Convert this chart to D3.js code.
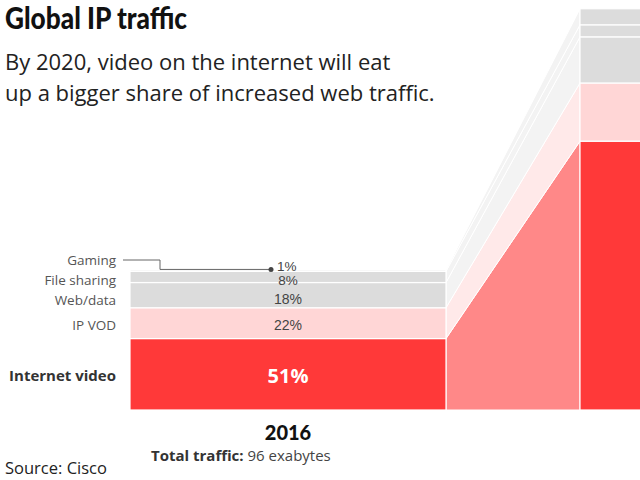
<!DOCTYPE html>
<html><head><meta charset="utf-8">
<script src="https://cdn.jsdelivr.net/npm/d3@7"></script>
<style>
body{margin:0;background:#fff;}
svg{display:block;}
</style></head>
<body><svg id="c" width="640" height="480"></svg>
<script>
const years = ["2016", "2020"];
const categories = ["Internet video", "IP VOD", "Web/data", "File sharing", "Gaming"];
const shares2016 = [51, 22, 18, 8, 1];
const shares2020 = [67, 14.5, 11.5, 3, 4];
const totals = [96, 275];
const valueLabels2016 = ["51%", "22%", "18%", "8%", "1%"];
const barColors = ["#ff3939", "#ffd6d6", "#dcdcdc", "#dcdcdc", "#dcdcdc"];
const bandColors = ["#ff8888", "#ffe9e9", "#f3f3f3", "#f3f3f3", "#f3f3f3"];

const svg = d3.select("#c");
const fontSans = "'Open Sans', sans-serif";

const x = d3.scaleBand().domain(years).range([130, 896]).paddingInner(134/450).paddingOuter(0);
const y = d3.scaleLinear().domain([0, 281]).range([410, 0]);

function stackYear(shares, total) {
  let acc = 0;
  return shares.map((s, i) => {
    const v = s / 100 * total;
    const d = {cat: categories[i], i, y0: acc, y1: acc + v};
    acc += v;
    return d;
  });
}
const stacks = [stackYear(shares2016, totals[0]), stackYear(shares2020, totals[1])];

// connecting bands
const bandG = svg.append("g");
categories.forEach((c, i) => {
  const a = stacks[0][i], b = stacks[1][i];
  const xa = x("2016") + x.bandwidth(), xb = x("2020");
  const pts = [[xa, y(a.y0)], [xa, y(a.y1)], [xb, y(b.y1)], [xb, y(b.y0)]];
  bandG.append("path")
    .attr("d", d3.line()(pts) + "Z")
    .attr("fill", bandColors[i])
    .attr("stroke", "#fff").attr("stroke-width", 1);
});

// bars
const barG = svg.append("g");
years.forEach((yr, k) => {
  stacks[k].forEach(d => {
    barG.append("rect")
      .attr("x", x(yr))
      .attr("y", y(d.y1))
      .attr("width", x.bandwidth())
      .attr("height", y(d.y0) - y(d.y1))
      .attr("fill", barColors[d.i])
      .attr("stroke", "#fff").attr("stroke-width", 1.2);
  });
});

// labels 2016
const cx = x("2016") + x.bandwidth() / 2;
const labelBase = [381, 330, 305, 285, 265];
const valBase = [383, 330, 304, 284.5, 271];
stacks[0].forEach((d, i) => {
  svg.append("text")
    .attr("x", 116).attr("y", labelBase[i])
    .attr("text-anchor", "end")
    .attr("font-family", fontSans)
    .attr("font-size", i === 0 ? 15 : 13.5)
    .attr("font-weight", i === 0 ? 700 : 400)
    .attr("fill", i === 0 ? "#333" : "#555")
    .text(d.cat);
  const t = svg.append("text")
    .attr("x", i === 4 ? cx - 11 : cx).attr("y", valBase[i])
    .attr("text-anchor", i === 4 ? "start" : "middle")
    .attr("fill", i === 0 ? "#fff" : "#444")
    .text(valueLabels2016[i]);
  if (i === 0) t.attr("font-family", fontSans).attr("font-size", 20).attr("font-weight", 700);
  else t.attr("font-family", "'Liberation Sans', Arial, sans-serif").attr("font-size", i >= 3 ? 13.5 : 14);
});
// gaming leader line
const gy = y(stacks[0][4].y1) - 0.5;
svg.append("path")
  .attr("d", d3.line()([[123, 260], [160, 260], [160, gy], [cx - 17, gy]]))
  .attr("fill", "none").attr("stroke", "#666").attr("stroke-width", 1);
svg.append("circle").attr("cx", cx - 17).attr("cy", gy).attr("r", 2.5).attr("fill", "#444");

// year + total
svg.append("text").attr("x", cx).attr("y", 440).attr("text-anchor", "middle")
  .attr("font-family", "Lato, sans-serif").attr("font-weight", 900).attr("font-size", 20)
  .attr("fill", "#111").text(years[0]);
const tt = svg.append("text").attr("x", 151).attr("y", 461).attr("text-anchor", "start")
  .attr("font-family", fontSans).attr("font-size", 15).attr("fill", "#444");
tt.append("tspan").attr("font-weight", 700).attr("fill", "#333").text("Total traffic: ");
tt.append("tspan").text(totals[0] + " exabytes");

// title
svg.append("text").attr("x", 5).attr("y", 29)
  .attr("font-family", "Lato, sans-serif")
  .attr("font-weight", 900).attr("font-size", 30).attr("fill", "#111")
  .attr("textLength", 182).attr("lengthAdjust", "spacingAndGlyphs")
  .text("Global IP traffic");
svg.append("text").attr("x", 5).attr("y", 70)
  .attr("font-family", fontSans).attr("font-size", 22).attr("fill", "#222")
  .text("By 2020, video on the internet will eat");
svg.append("text").attr("x", 5).attr("y", 101)
  .attr("font-family", fontSans).attr("font-size", 22).attr("fill", "#222")
  .text("up a bigger share of increased web traffic.");
svg.append("text").attr("x", 5).attr("y", 474)
  .attr("font-family", fontSans).attr("font-size", 16.5).attr("fill", "#222")
  .text("Source: Cisco");
</script></body></html>
